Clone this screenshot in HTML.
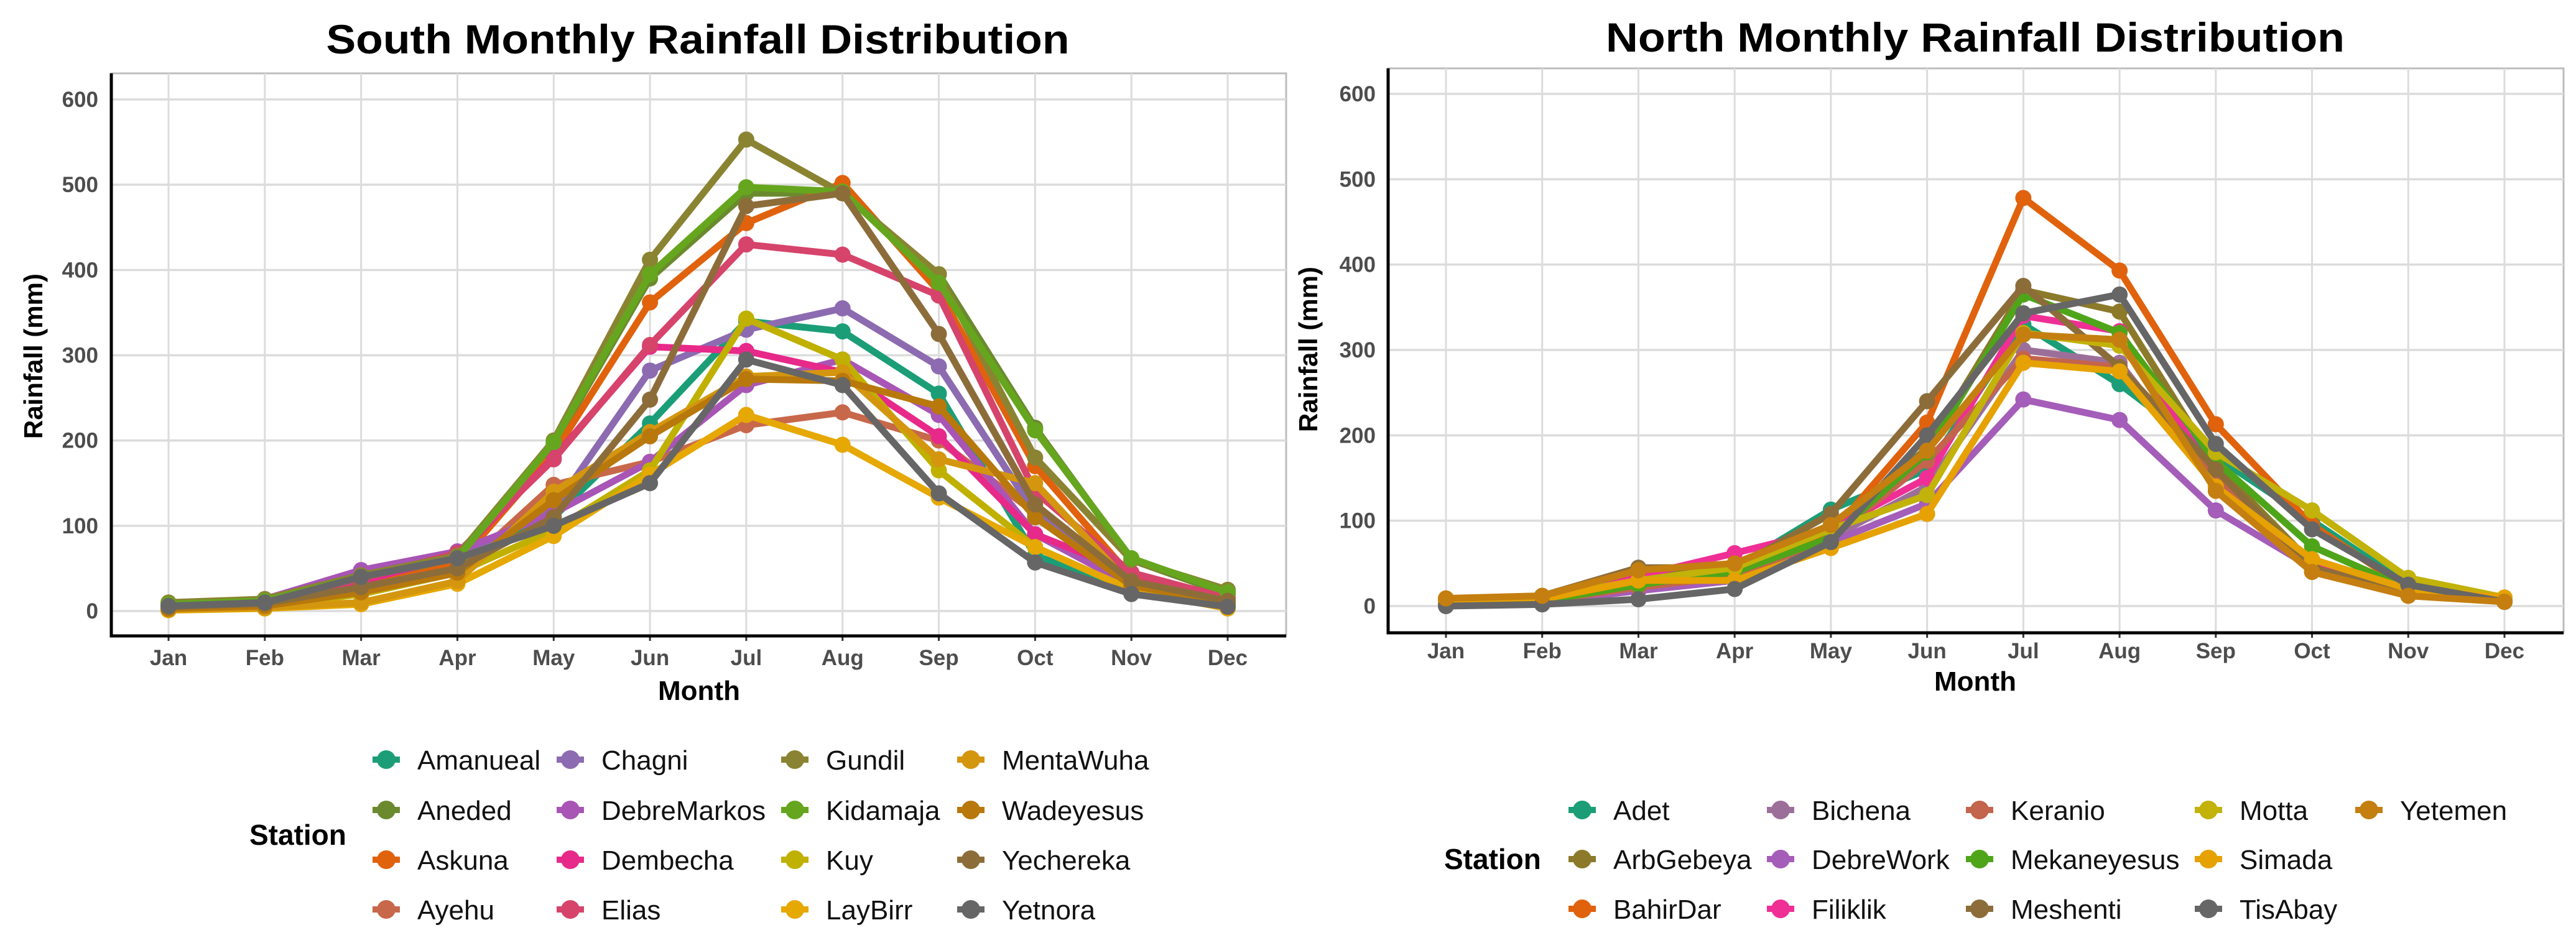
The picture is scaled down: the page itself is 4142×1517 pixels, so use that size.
<!DOCTYPE html>
<html><head><meta charset="utf-8">
<style>
html,body{margin:0;padding:0;background:#fff;}
svg{display:block;font-family:"Liberation Sans",Arial,sans-serif;}
</style></head>
<body>
<svg id="chart" width="4142" height="1517" viewBox="0 0 4142 1517" xmlns="http://www.w3.org/2000/svg"></svg>
<script>
const months = ["Jan","Feb","Mar","Apr","May","Jun","Jul","Aug","Sep","Oct","Nov","Dec"];
const yTicks = [0,100,200,300,400,500,600];

// South stations
const southNames = ["Amanueal","Aneded","Askuna","Ayehu","Chagni","DebreMarkos","Dembecha","Elias","Gundil","Kidamaja","Kuy","LayBirr","MentaWuha","Wadeyesus","Yechereka","Yetnora"];
const southColors = ["#1b9e77","#6b8a2e","#e0620d","#c8684a","#8c6bb1","#a855b5","#e7298a","#d6446b","#8a8432","#66a61e","#c0b000","#e6a802","#d4960f","#b8780c","#8c6d3a","#666666"];
const sAmanueal   = [5,8,30,55,110,220,340,328,255,65,25,10];
const sAneded     = [8,12,35,60,195,390,490,490,395,215,60,20];
const sAskuna     = [6,10,28,55,185,362,455,502,375,170,40,10];
const sAyehu      = [4,6,20,45,148,175,218,233,200,115,30,10];
const sChagni     = [7,12,40,65,120,282,330,355,287,115,30,12];
const sDebreMarkos= [8,14,48,70,115,175,265,295,230,90,30,10];
const sDembecha   = [6,10,35,65,180,310,305,280,205,90,45,10];
const sElias      = [7,12,38,68,178,312,430,418,370,140,45,15];
const sGundil     = [10,14,42,65,200,412,553,490,395,180,60,25];
const sKidamaja   = [8,12,40,62,198,395,497,492,385,212,62,22];
const sKuy        = [3,5,20,45,95,165,343,295,165,75,25,8];
const sLayBirr    = [1,3,8,32,88,160,230,195,133,75,25,3];
const sMentaWuha  = [2,4,10,35,140,210,275,280,178,150,30,8];
const sWadeyesus  = [3,6,22,45,130,205,272,270,240,110,30,10];
const sYechereka  = [5,9,28,50,110,248,475,490,325,125,35,12];
const sYetnora    = [6,10,40,62,100,150,295,265,138,57,20,5];
const southSeries = [sAmanueal,sAneded,sAskuna,sAyehu,sChagni,sDebreMarkos,sDembecha,sElias,sGundil,sKidamaja,sKuy,sLayBirr,sMentaWuha,sWadeyesus,sYechereka,sYetnora];

// North stations
const northNames = ["Adet","ArbGebeya","BahirDar","Bichena","DebreWork","Filiklik","Keranio","Mekaneyesus","Meshenti","Motta","Simada","TisAbay","Yetemen"];
const northColors = ["#1b9e77","#8c7a2a","#e0620d","#9c6f9a","#a45db8","#ef2f96","#c3644c","#4ea51a","#8c6d3a","#c2b20a","#e6a102","#666666","#c47f10"];
const nAdet       = [3,5,25,45,113,160,330,260,175,100,25,5];
const nArbGebeya  = [6,10,40,45,90,185,370,345,165,50,15,5];
const nBahirDar   = [5,8,25,35,85,215,478,393,213,95,20,5];
const nBichena    = [4,6,20,35,80,140,300,285,140,50,15,5];
const nDebreWork  = [3,5,18,30,75,120,242,218,112,45,15,5];
const nFiliklik   = [5,8,35,62,90,150,340,322,150,50,18,6];
const nKeranio    = [4,6,22,35,80,170,290,280,150,45,15,5];
const nMekaneyesus= [4,6,25,40,80,180,365,320,170,70,20,6];
const nMeshenti   = [8,12,45,45,108,240,375,280,160,45,15,5];
const nMotta      = [6,10,30,45,90,130,320,305,180,112,33,10];
const nSimada     = [5,8,30,30,68,108,285,275,140,55,20,10];
const nTisAbay    = [0,2,8,20,75,200,343,365,190,90,25,5];
const nYetemen    = [9,12,42,50,95,182,318,312,135,40,12,5];
const northSeries = [nAdet,nArbGebeya,nBahirDar,nBichena,nDebreWork,nFiliklik,nKeranio,nMekaneyesus,nMeshenti,nMotta,nSimada,nTisAbay,nYetemen];

const NS = "http://www.w3.org/2000/svg";
const svg = document.getElementById("chart");
function mk(tag, attrs, parent, text){
  const e = document.createElementNS(NS, tag);
  for (const k in attrs) e.setAttribute(k, attrs[k]);
  if (text !== undefined) e.textContent = text;
  (parent||svg).appendChild(e);
  return e;
}

function panel(cfg){
  const g = mk("g", {});
  
  
  const xS = i => cfg.x0 + (cfg.x11 - cfg.x0) * i / 11;
  const yS = v => cfg.y0 - (cfg.y0 - cfg.y600) * v / 600;
  const border = mk("rect", {x:cfg.left, y:cfg.top, width:cfg.right-cfg.left, height:cfg.bottom-cfg.top, fill:"#fff", stroke:"#bdbdbd", "stroke-width":3}, g);
  
  
  yTicks.forEach(v => {
    const l = mk("line", {x1:cfg.left, x2:cfg.right, y1:yS(v), y2:yS(v), stroke:"#dcdcdc", "stroke-width":3.5}, g);
    
    
    const t = mk("text", {x:cfg.tickRight, y:yS(v)+12, "text-anchor":"end", "font-size":35, "font-weight":"bold", fill:"#4d4d4d"}, g, String(v));
    
    
  });
  months.forEach((m,i) => {
    const l = mk("line", {x1:xS(i), x2:xS(i), y1:cfg.top, y2:cfg.bottom, stroke:"#dcdcdc", "stroke-width":3}, g);
    
    
    const tk = mk("line", {x1:xS(i), x2:xS(i), y1:cfg.bottom, y2:cfg.bottom+8, stroke:"#333", "stroke-width":3}, g);
    
    
    const t = mk("text", {x:xS(i), y:cfg.monthY, "text-anchor":"middle", "font-size":35, "font-weight":"bold", fill:"#4d4d4d"}, g, m);
    
    
  });
  const ax = mk("path", {d:`M${cfg.left} ${cfg.top} V${cfg.bottom} H${cfg.right}`, fill:"none", stroke:"#000", "stroke-width":5}, g);
  
  
  cfg.series.forEach((vals, si) => {
    const sg = mk("g", {}, g);
    
    
    const d = vals.map((v,i) => (i?"L":"M") + xS(i).toFixed(1) + " " + yS(v).toFixed(1)).join(" ");
    const p = mk("path", {d:d, fill:"none", stroke:cfg.colors[si], "stroke-width":11, "stroke-linejoin":"round"}, sg);
    
    
    vals.forEach((v,i) => {
      const c = mk("circle", {cx:xS(i), cy:yS(v), r:13, fill:cfg.colors[si]}, sg);
      
      
    });
  });
  const tt = mk("text", {x:cfg.titleX, y:cfg.titleY, "text-anchor":"middle", "font-size":66, "font-weight":"bold", fill:"#000", textLength:cfg.titleW, lengthAdjust:"spacingAndGlyphs"}, g, cfg.title);
  
  
  const xt = mk("text", {x:cfg.monthTitleX, y:cfg.monthTitleY, "text-anchor":"middle", "font-size":44, "font-weight":"bold", fill:"#000"}, g, "Month");
  
  
  const yt = mk("text", {x:0, y:0, "text-anchor":"middle", "font-size":42, "font-weight":"bold", fill:"#000", transform:`translate(${cfg.yTitleX},${cfg.yTitleY}) rotate(-90)`}, g, "Rainfall (mm)");
  
  
  const lg = mk("g", {}, g);
  
  
  const st = mk("text", {x:cfg.stationX, y:cfg.stationY+16, "font-size":46, "font-weight":"bold", fill:"#000"}, lg, "Station");
  
  
  cfg.names.forEach((n, i) => {
    const col = Math.floor(i / cfg.rows), row = i % cfg.rows;
    const sx = cfg.legCols[col], sy = cfg.legRows[row];
    const eg = mk("g", {}, lg);
    
    
    mk("line", {x1:sx-22, x2:sx+22, y1:sy, y2:sy, stroke:cfg.colors[i], "stroke-width":10}, eg);
    mk("circle", {cx:sx, cy:sy, r:15, fill:cfg.colors[i]}, eg);
    mk("text", {x:sx+50, y:sy+16, "font-size":44, fill:"#111"}, eg, n);
  });
}

panel({key:"south", title:"South Monthly Rainfall Distribution", titleX:1122, titleY:86, titleW:1195,
  left:179, right:2068, top:118, bottom:1023, x0:271, x11:1974, y0:983, y600:160,
  tickRight:158, monthY:1070, monthTitleX:1124, monthTitleY:1126, yTitleX:68, yTitleY:573,
  names:southNames, colors:southColors, series:southSeries, rows:4,
  legCols:[621,917,1278,1561], legRows:[1222,1303,1383,1463], stationX:401, stationY:1343});

panel({key:"north", title:"North Monthly Rainfall Distribution", titleX:3176, titleY:83, titleW:1188,
  left:2232, right:4122, top:110, bottom:1018, x0:2325, x11:4027, y0:975, y600:151,
  tickRight:2212, monthY:1059, monthTitleX:3176, monthTitleY:1111, yTitleX:2118, yTitleY:562,
  names:northNames, colors:northColors, series:northSeries, rows:3,
  legCols:[2544,2863,3183,3551,3809], legRows:[1303,1382,1462], stationX:2322, stationY:1382});
</script>
</body></html>
